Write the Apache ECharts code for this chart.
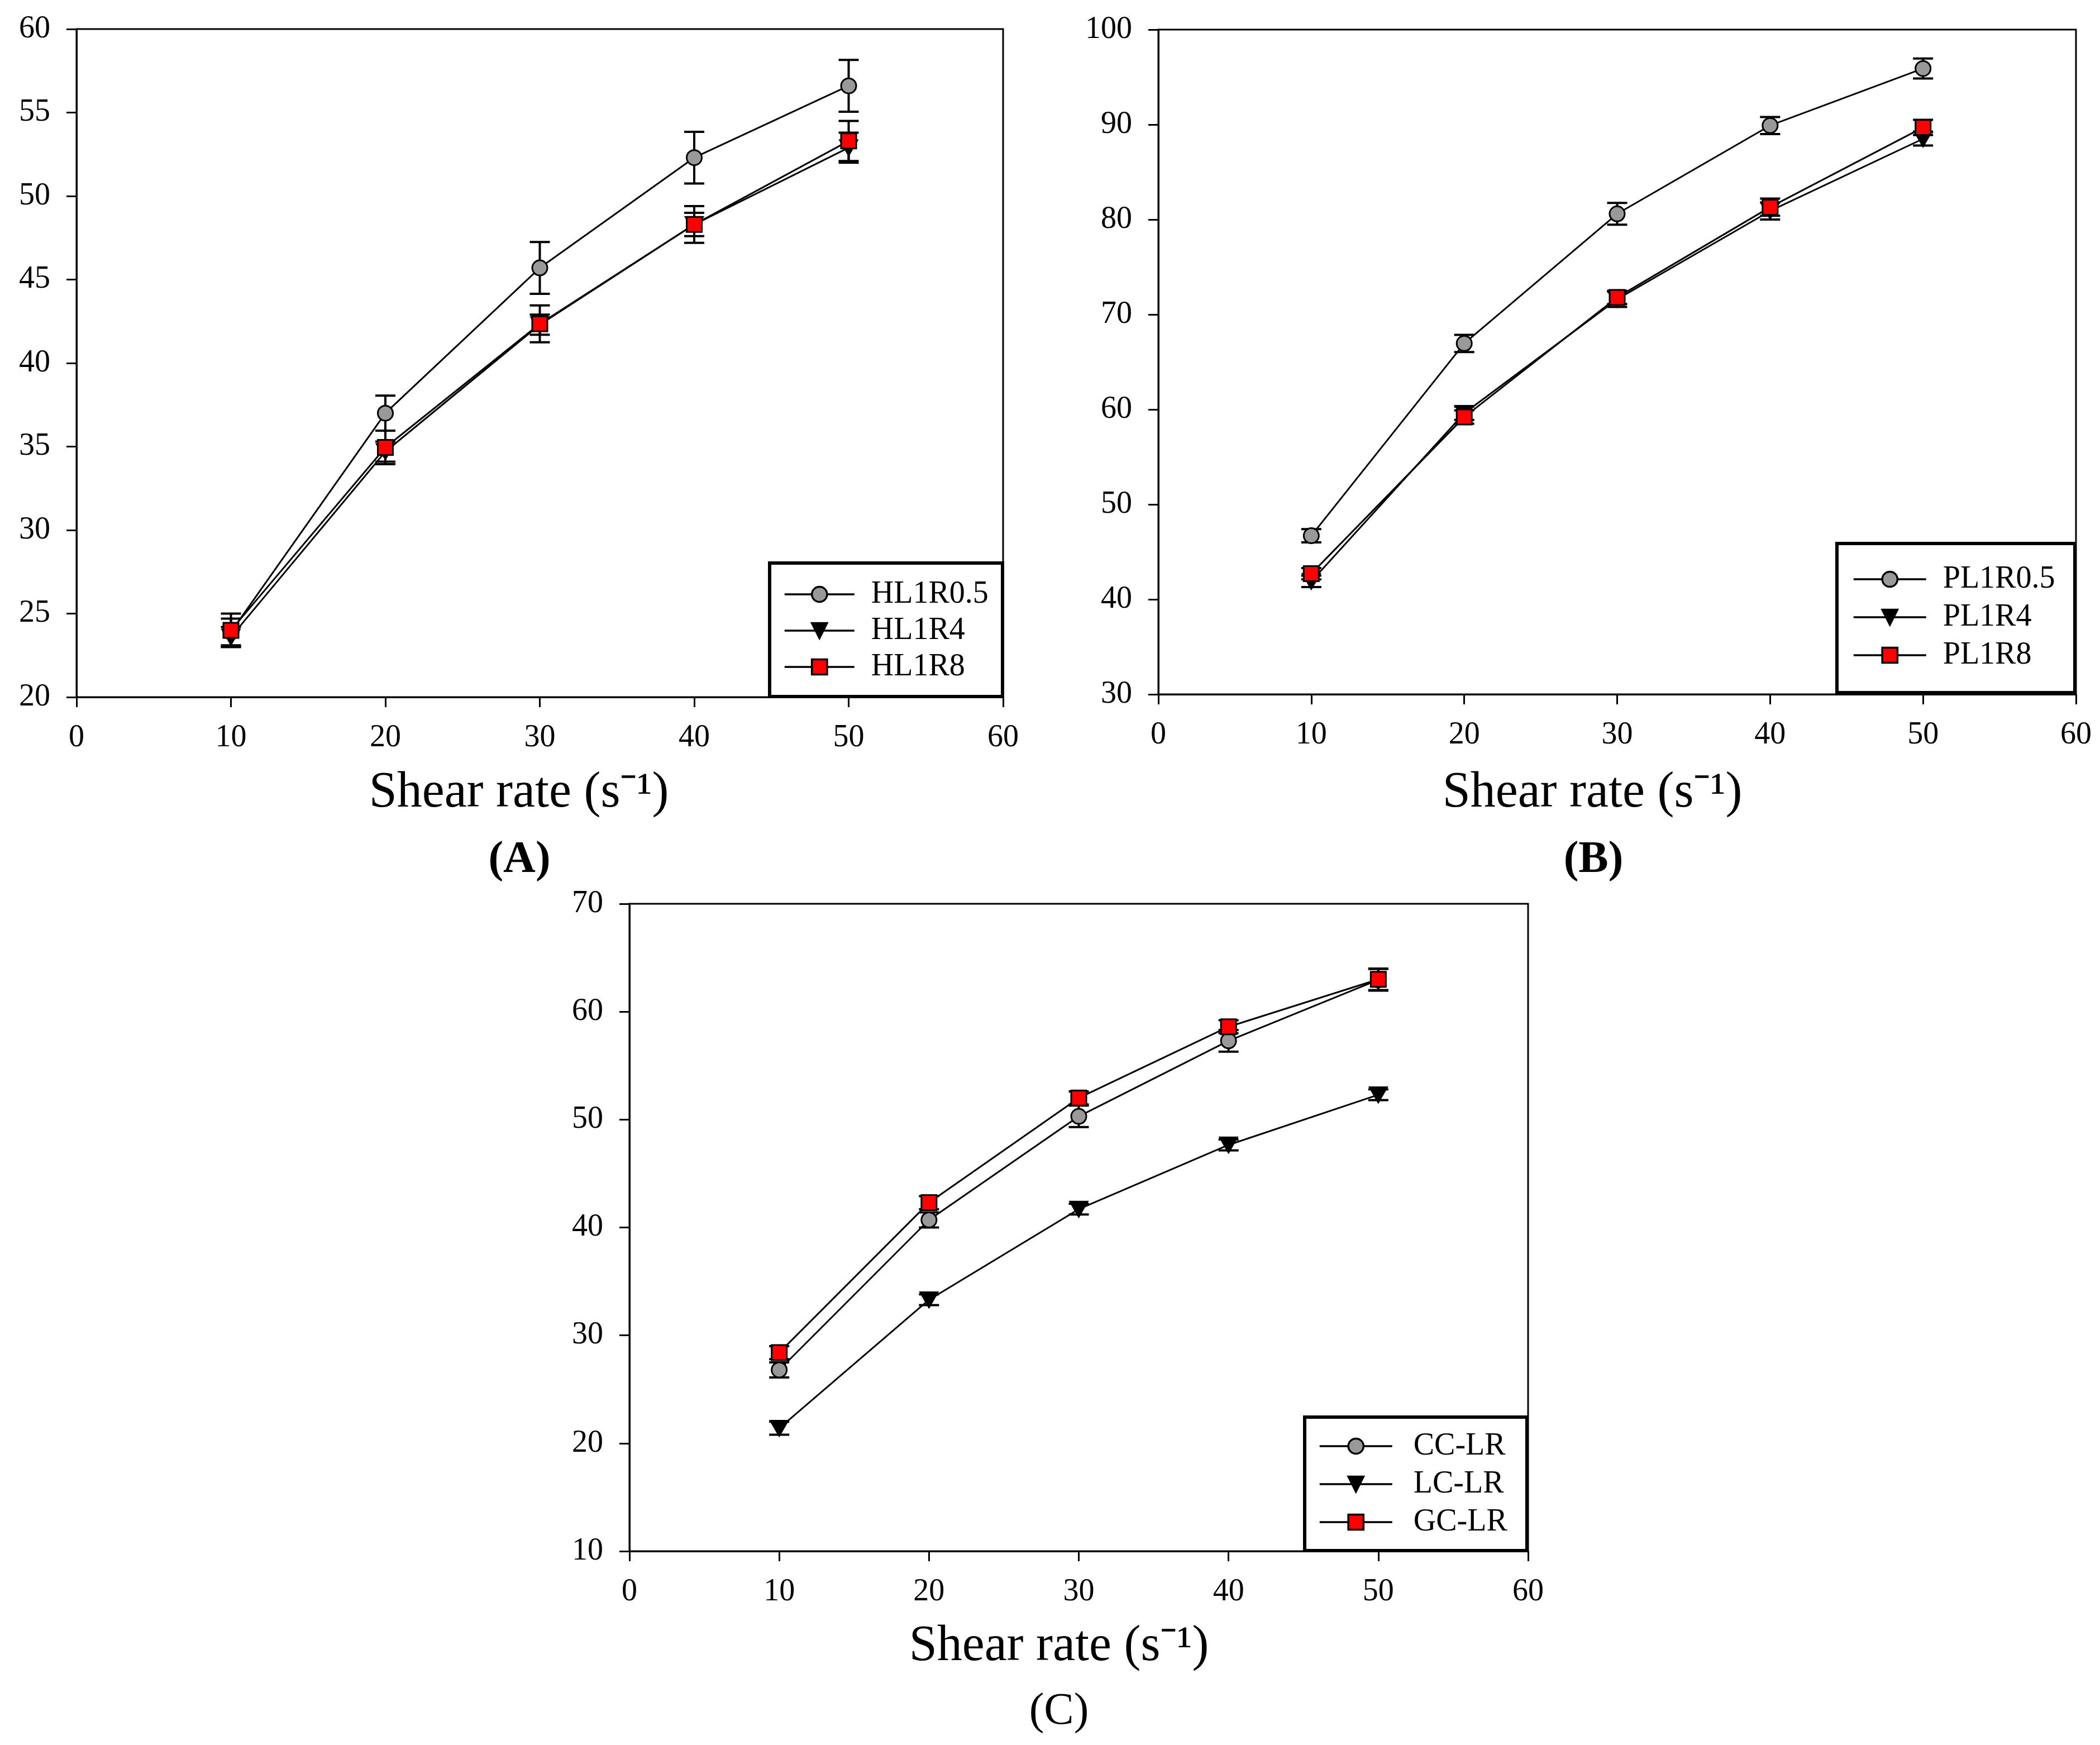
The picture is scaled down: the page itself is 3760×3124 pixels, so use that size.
<!DOCTYPE html>
<html>
<head>
<meta charset="utf-8">
<title>Shear rate</title>
<script src="https://cdn.jsdelivr.net/npm/echarts@6.0.0/dist/echarts.min.js"></script>
<style>
html, body { margin: 0; padding: 0; background: #fff; }
#chart { width: 3760px; height: 3124px; }
</style>
</head>
<body>
<div id="chart"></div>
<script>
// shear rate (s-1), same for all three panels
var shearRate = [10, 20, 30, 40, 50];
var xRange = [0, 60, 10];

// panel A
var namesA = ['HL1R0.5', 'HL1R4', 'HL1R8'];
var hl1r05 = [23.9, 37.0, 45.7, 52.3, 56.6];
var hl1r05Err = [0.8, 1.05, 1.55, 1.55, 1.55];
var hl1r4 = [23.6, 34.7, 42.3, 48.3, 52.9];
var hl1r4Err = [0.6, 0.6, 0.6, 0.7, 0.9];
var hl1r8 = [24.0, 34.95, 42.35, 48.3, 53.3];
var hl1r8Err = [1.0, 1.0, 1.1, 1.1, 1.2];
var yRangeA = [20, 60, 5];

// panel B
var namesB = ['PL1R0.5', 'PL1R4', 'PL1R8'];
var pl1r05 = [46.7, 66.95, 80.6, 89.9, 95.9];
var pl1r05Err = [0.7, 0.9, 1.15, 0.9, 1.05];
var pl1r4 = [41.9, 59.6, 71.6, 80.9, 88.5];
var pl1r4Err = [0.6, 0.7, 0.8, 0.9, 0.7];
var pl1r8 = [42.7, 59.2, 71.8, 81.3, 89.7];
var pl1r8Err = [0.6, 0.7, 0.7, 0.9, 0.8];
var yRangeB = [30, 100, 10];

// panel C
var namesC = ['CC-LR', 'LC-LR', 'GC-LR'];
var ccLR = [26.8, 40.7, 50.3, 57.3, 62.95];
var ccLRErr = [0.7, 0.7, 1.0, 1.0, 1.0];
var lcLR = [21.4, 33.3, 41.7, 47.65, 52.3];
var lcLRErr = [0.6, 0.5, 0.5, 0.5, 0.5];
var gcLR = [28.4, 42.3, 52.0, 58.6, 63.0];
var gcLRErr = [0.6, 0.6, 0.6, 0.6, 1.0];
var yRangeC = [10, 70, 10];

var serif = '"Liberation Serif", "Times New Roman", serif';
// marker look: circle grey, triangle down black, square red
var markerShapes = ['circle', 'path://M0,0L20,0L10,18Z', 'rect'];
var markerSizes = [27, [31, 27], 27];
var markerFills = ['#999999', '#000000', '#ff0000'];

function drawErrorBar(params, api) {
    var x = api.value(0);
    var lo = api.coord([x, api.value(1)]);
    var hi = api.coord([x, api.value(2)]);
    var w = 18;
    var st = { stroke: '#000', lineWidth: 4 };
    return {
        type: 'group',
        children: [
            { type: 'line', shape: { x1: lo[0], y1: lo[1], x2: hi[0], y2: hi[1] }, style: st },
            { type: 'line', shape: { x1: lo[0] - w, y1: lo[1], x2: lo[0] + w, y2: lo[1] }, style: st },
            { type: 'line', shape: { x1: hi[0] - w, y1: hi[1], x2: hi[0] + w, y2: hi[1] }, style: st }
        ]
    };
}

function lineSeries(name, values, idx, gi) {
    var pts = [];
    for (var i = 0; i < shearRate.length; i++) {
        pts.push([shearRate[i], values[i]]);
    }
    return {
        name: name,
        type: 'line',
        xAxisIndex: gi,
        yAxisIndex: gi,
        data: pts,
        symbol: markerShapes[idx],
        symbolSize: markerSizes[idx],
        itemStyle: { color: markerFills[idx], borderColor: '#000', borderWidth: 3 },
        lineStyle: { color: '#000', width: 3 },
        z: 3,
        animation: false
    };
}

function errorSeries(values, errs, gi) {
    var pts = [];
    for (var i = 0; i < shearRate.length; i++) {
        pts.push([shearRate[i], values[i] - errs[i], values[i] + errs[i]]);
    }
    return {
        type: 'custom',
        xAxisIndex: gi,
        yAxisIndex: gi,
        data: pts,
        renderItem: drawErrorBar,
        silent: true,
        z: 2,
        animation: false
    };
}

function axisCommon(gi, range, margin) {
    return {
        gridIndex: gi,
        type: 'value',
        min: range[0],
        max: range[1],
        interval: range[2],
        axisLine: { show: true, onZero: false, lineStyle: { color: '#000', width: 3 } },
        axisTick: { show: true, inside: false, length: 18, lineStyle: { color: '#000', width: 3 } },
        axisLabel: { show: true, margin: margin, fontSize: 56, fontFamily: serif, color: '#000' },
        splitLine: { show: false }
    };
}

function legendFor(names, left, top, itemWidth, textGap, itemGap) {
    return {
        data: names,
        orient: 'vertical',
        left: left,
        top: top,
        itemWidth: itemWidth,
        itemHeight: 34,
        itemGap: itemGap,
        padding: 0,
        selectedMode: false,
        lineStyle: { color: '#000', width: 3.5 },
        itemStyle: { borderColor: '#000', borderWidth: 3.5 },
        textStyle: { fontFamily: serif, fontSize: 56, lineHeight: 56, color: '#000', padding: [0, 0, 0, textGap - 5] }
    };
}

function label(text, x, y, size, weight) {
    return {
        type: 'text',
        x: x,
        y: y,
        z: 5,
        style: {
            text: text,
            fontFamily: serif,
            fontSize: size,
            fontWeight: weight,
            fill: '#000',
            align: 'center',
            verticalAlign: 'middle',
            textAlign: 'center',
            textVerticalAlign: 'middle'
        }
    };
}

function legendBox(x1, y1, x2, y2) {
    return {
        type: 'rect',
        z: 3,
        shape: { x: x1 + 3, y: y1 + 3, width: x2 - x1 - 6, height: y2 - y1 - 6 },
        style: { fill: '#fff', stroke: '#000', lineWidth: 6 }
    };
}

var myChart = echarts.init(document.getElementById('chart'), null, { renderer: 'canvas' });

var option = {
    backgroundColor: '#fff',
    animation: false,
    grid: [
        { left: 137, top: 52, width: 1659, height: 1196, show: true, borderColor: '#000', borderWidth: 3, backgroundColor: 'transparent', outerBoundsMode: 'none' },
        { left: 2074, top: 53, width: 1643, height: 1190, show: true, borderColor: '#000', borderWidth: 3, backgroundColor: 'transparent', outerBoundsMode: 'none' },
        { left: 1127, top: 1618, width: 1609, height: 1159, show: true, borderColor: '#000', borderWidth: 3, backgroundColor: 'transparent', outerBoundsMode: 'none' }
    ],
    xAxis: [axisCommon(0, xRange, 45), axisCommon(1, xRange, 45), axisCommon(2, xRange, 45)],
    yAxis: [axisCommon(0, yRangeA, 47), axisCommon(1, yRangeB, 47), axisCommon(2, yRangeC, 47)],
    legend: [
        legendFor(namesA, 1403, 1036, 125, 30, 9),
        legendFor(namesB, 3317, 1009, 130, 30, 12),
        legendFor(namesC, 2361, 2561, 130, 38, 12)
    ],
    graphic: [
        legendBox(1375, 1005, 1798, 1250),
        legendBox(3286, 970, 3718, 1243),
        legendBox(2333, 2534, 2737, 2779),
        label('Shear rate (s\u207B\u00B9)', 929, 1420, 90, 'normal'),
        label('(A)', 930, 1540, 80, 'bold'),
        label('Shear rate (s\u207B\u00B9)', 2851, 1420, 90, 'normal'),
        label('(B)', 2853, 1540, 80, 'bold'),
        label('Shear rate (s\u207B\u00B9)', 1896, 2948, 90, 'normal'),
        label('(C)', 1896, 3065, 80, 'normal')
    ],
    series: [
        errorSeries(hl1r05, hl1r05Err, 0),
        errorSeries(hl1r4, hl1r4Err, 0),
        errorSeries(hl1r8, hl1r8Err, 0),
        lineSeries(namesA[0], hl1r05, 0, 0),
        lineSeries(namesA[1], hl1r4, 1, 0),
        lineSeries(namesA[2], hl1r8, 2, 0),

        errorSeries(pl1r05, pl1r05Err, 1),
        errorSeries(pl1r4, pl1r4Err, 1),
        errorSeries(pl1r8, pl1r8Err, 1),
        lineSeries(namesB[0], pl1r05, 0, 1),
        lineSeries(namesB[1], pl1r4, 1, 1),
        lineSeries(namesB[2], pl1r8, 2, 1),

        errorSeries(ccLR, ccLRErr, 2),
        errorSeries(lcLR, lcLRErr, 2),
        errorSeries(gcLR, gcLRErr, 2),
        lineSeries(namesC[0], ccLR, 0, 2),
        lineSeries(namesC[1], lcLR, 1, 2),
        lineSeries(namesC[2], gcLR, 2, 2)
    ]
};
myChart.setOption(option);
</script>
</body>
</html>
